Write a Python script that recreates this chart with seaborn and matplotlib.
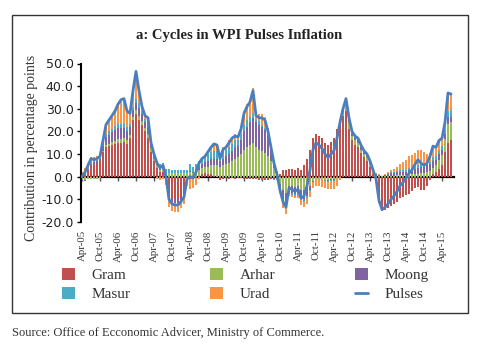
import numpy as np
import pandas as pd
import matplotlib
matplotlib.use("Agg")
import matplotlib.pyplot as plt
import seaborn as sns
from matplotlib.patches import Patch, Rectangle
from matplotlib.lines import Line2D
from matplotlib.ticker import FormatStrFormatter

# ---------------- data (percentage-point contributions, Apr-05 .. Jul-15) ----------------
months = [d.strftime("%b-%y") for d in pd.date_range("2005-04-01", periods=124, freq="MS")]

gram = [0.5, 1.5, 3, 5, 5.5, 6, 7, 11, 13, 13.5, 14, 14.5,
        15, 15, 15.5, 14.5, 17, 25, 27.5, 25, 23, 20, 17, 11,
        7, 4, 2, 2, -1, -8, -9.5, -10, -10, -9, -7, -1,
        -1, -1, -0.5, 0.5, 1, 1.5, 1, 1, 0.5, 0, -1.5, -1,
        -0.5, -1, -0.5, -1, -0.5, -0.5, -1, -1, -1, -1, -1, -1.5,
        -1.5, -1.5, -1.5, -1, -1, -0.5, 1, 3, 3, 3.5, 3.5, 3,
        4, 3, 5, 8, 12, 17, 19, 18, 17, 15, 14, 15.5,
        17, 21, 25, 27, 29, 21, 16, 14, 13, 10.5, 8.5, 7,
        4.5, 1, -2.5, -11.5, -15, -14.5, -14, -13, -12, -11, -9.5, -9,
        -8, -7.5, -6.5, -5, -4.5, -6, -6, -4, -1.5, 1, 2, 3.5,
        5, 11, 15, 16]
arhar = [-1.5, -1.5, -1, -0.8, -1, -1.2, -0.5, 0.5, 1, 1, 1.2, 1.2,
         1.5, 1.5, 1.5, 1.5, 1.5, 1.5, 2, 2, 1.5, 1.5, 2, 1.5,
         1, 1, 1, 1.5, 1.5, 1.5, 1.5, 1.5, 1.5, 1.5, 1.5, 1.5,
         2, 1.5, 2, 2.5, 3, 3, 3.5, 4, 4.5, 5, 4.5, 5,
         5.5, 6, 7, 8, 8.5, 10, 12, 13, 14, 15, 13, 12,
         11.5, 10.5, 9, 7, 4, 1, -3, -6, -7, -4, -4, -4.5,
         -4, -6, -6, -5, -4, -2, -1.5, -1.5, -1.5, -1.5, -1.5, -1,
         -1, -0.5, 0.5, 1.5, 3, 3, 2, 2, 2, 1.5, 1.5, 1.5,
         1.2, 1, 0.5, 0.3, 0.2, 0.3, 0.5, 0.5, 0.5, 0.8, 0.8, 0.8,
         0.8, 1, 1, 1, 1, 1.5, 1.5, 2, 2.5, 3, 3, 4,
         4.5, 5.5, 8.5, 8]
moong = [-0.5, -0.3, 0.2, 0.8, 0.8, 0.8, 1, 2, 3.5, 4, 4.5, 5,
         5, 5, 4.5, 4, 3.5, 3, 3, 3.5, 3, 2.5, 3, 1.5,
         1, 0.5, 0.5, 0.5, 0, -1, -1.5, -1.5, -1.5, -1.5, -1, -0.5,
         0.5, 0.5, 1, 1.5, 1.5, 2, 2.5, 3, 3, 3, 2.5, 3,
         3.5, 4, 4.5, 5, 5, 6, 8, 9, 10, 11, 11, 11,
         10.5, 10, 9, 6, 3.5, 1, -2, -4, -4.5, -2.5, -3, -3,
         -3, -3.5, -4, -3.5, -2, -0.5, 0, 0, 0, 0, -0.5, -0.5,
         -0.5, 0, 0, 0.5, 1, 1, 1, 1, 1, 1, 0.8, 0.8,
         0.8, 0.5, 0.5, 0.3, 0.1, 0.3, 0.6, 1, 1, 1.2, 1.5, 1.5,
         1.5, 2, 2, 2.5, 3, 3, 3, 3, 3, 3, 2.5, 2.5,
         2.5, 2.5, 3, 2.5]
masur = [0.3, 0.5, 0.5, 0.8, 0.8, 0.8, 0.8, 1, 1.5, 1.5, 1.5, 1.8,
         2, 2, 2, 1.8, 1.5, 1.5, 2, 2, 1.5, 1.5, 1.5, 1,
         1, 1.5, 2, 2, 2, 2, 1.5, 1.5, 1.5, 1.5, 1.5, 1.5,
         3, 2.5, 2.5, 2.5, 2.5, 2.5, 3, 3, 3.5, 3.5, 2.5, 3,
         3, 3, 3, 3, 2.5, 3, 3, 3, 2.5, 2, 1.5, 1.5,
         1, 1, 0.5, 0.5, -0.5, -1, -1.5, -2, -2, -1, -1, -1,
         -1, -1, -1, -1, -0.5, 0, 0, 0, 0, -0.5, -0.5, -0.5,
         -0.5, 0, 0, 0.5, 0.5, 0.5, 0.5, 0.5, 0.5, 0.5, 0.5, 0.5,
         0.3, 0.3, 0.3, 0.2, 0.1, 0.2, 0.4, 0.5, 0.5, 0.5, 0.7, 0.7,
         0.7, 1, 1, 1, 1, 1, 1, 1, 1, 1.5, 1.5, 1.5,
         1.5, 1.5, 2.5, 3]
urad = [1.2, 1.8, 2.3, 2.2, 1.4, 1.6, 0.7, 1.5, 4, 5, 5.8, 6.5,
        8.5, 10.5, 11, 7.2, 4.5, 7, 12, 5.5, 2, 1.5, 2.5, 0,
        0, -1, -1.5, -1, -2.5, -4.5, -4, -4, -4, -3.5, -4, -2.5,
        -4.5, -4, -3, -1, 0, 0, 1, 2, 3, 2.5, 0, 2,
        1.5, 3, 3, 3, 2, 2.5, 6, 7, 7.5, 11, 2.5, 3,
        4.5, 5, 3, 0.5, 0, 0.5, -0.5, -2, -3, -1, -1, -1,
        -1.5, -2, -2.5, -2.5, -2.5, -2.5, -2.5, -2.5, -3, -3, -3, -3.5,
        -3.5, -3.5, -1.5, 0.5, 1, 0.5, 0.5, 0.5, 0.5, 0.5, 0.2, 0.2,
        0.2, 0.2, 0.2, 0.2, 0.1, 0.2, 0.5, 1, 1.5, 2, 2.5, 3.5,
        4.5, 5, 5.5, 6, 7, 6.5, 5.5, 4, 4, 5, 4, 4.5,
        3.5, 3.5, 8, 7]
pulses = [0, 2, 5, 8, 7.5, 8, 9, 16, 23, 25, 27, 29,
          32, 34, 34.5, 29, 28, 38, 46.5, 38, 31, 27, 26, 15,
          10, 6, 4, 5, 0, -10, -12, -12.5, -12.5, -11, -9, -1,
          0, -0.5, 2, 6, 8, 9, 11, 13, 14.5, 14, 8, 12,
          13, 15, 17, 18, 17.5, 21, 28, 31, 33, 38, 27, 26,
          26, 25, 20, 13, 6, 1, -6, -11, -13.5, -5, -5.5, -6.5,
          -5.5, -9.5, -8.5, -4, 3, 12, 15, 14, 12.5, 10, 8.5, 10,
          11.5, 17, 24, 30, 34.5, 26, 20, 18, 17, 14, 11.5, 10,
          7, 3, -1, -10.5, -14.5, -13.5, -12, -10, -8.5, -6.5, -4, -2.5,
          -0.5, 1.5, 3, 5.5, 7.5, 6, 5, 6, 9, 13.5, 13, 16,
          17, 24, 37, 36.5]

series_names = ["Gram", "Arhar", "Moong", "Masur", "Urad"]
series_colors = ["#C0504D", "#9BBB59", "#8064A2", "#4BACC6", "#F79646"]
line_color = "#4A7EBF"

# ---------------- figure ----------------
sns.set_theme(style="white")
plt.rcParams["font.family"] = ["DejaVu Sans"]
SERIF = ["Liberation Serif", "DejaVu Serif"]

fig = plt.figure(figsize=(4.8, 3.47), dpi=100)
ax = fig.add_axes([80.5 / 480, 1 - 222 / 347, (454 - 80.5) / 480, (222 - 63.5) / 347])

idx = np.arange(len(pulses))
comps = np.array([gram, arhar, moong, masur, urad], dtype=float)
cum_pos = np.cumsum(np.clip(comps, 0, None), axis=0)
cum_neg = np.cumsum(np.clip(comps, None, 0), axis=0)

# stacked bars drawn as overlapping cumulative bars (outermost first)
for k in reversed(range(len(series_names))):
    for cum in (cum_pos, cum_neg):
        sns.barplot(x=idx, y=cum[k], native_scale=True, color=series_colors[k],
                    saturation=1, width=0.62, linewidth=0, errorbar=None, ax=ax)

sns.lineplot(x=idx, y=pulses, color=line_color, linewidth=2.0, ax=ax, zorder=6)

ax.set_xlim(-0.5, 124)
ax.set_ylim(-20, 50)
ax.set_yticks(np.arange(-20, 51, 10))
ax.yaxis.set_major_formatter(FormatStrFormatter("%.1f"))
ax.tick_params(axis="y", length=3, width=1, color="black", labelsize=9, pad=2, left=True,
               labelcolor="#222222")

tick_pos = idx[::6]
ax.set_xticks(tick_pos)
ax.set_xticklabels([months[i] for i in tick_pos], rotation=90, fontsize=7.8,
                   family=SERIF, color="#333333")
ax.tick_params(axis="x", length=0, pad=6)
ax.set_xlabel("")
ax.set_ylabel("")
for s in ("top", "right", "bottom"):
    ax.spines[s].set_visible(False)
ax.spines["left"].set_color("black")
ax.spines["left"].set_linewidth(1.5)
ax.grid(False)

# zero axis line with small ticks
sec = ax.secondary_xaxis(20 / 70)
sec.set_xticks(tick_pos)
sec.set_xticklabels([""] * len(tick_pos))
sec.tick_params(length=3, width=1, color="#555555")
sec.spines["bottom"].set_color("black")
sec.spines["bottom"].set_linewidth(1.6)

# texts
fig.text(239 / 480, 1 - 36 / 347, "a: Cycles in WPI Pulses Inflation", ha="center", va="center",
         fontsize=10.5, fontweight="bold", family=SERIF, color="#222222")
fig.text(32 / 480, 1 - 148 / 347, "Contribution in percentage points", rotation=90,
         ha="center", va="center", fontsize=10, family=SERIF, color="#333333")
fig.text(12 / 480, 1 - 333 / 347, "Source: Office of Ecconomic Advicer, Ministry of Commerce.",
         ha="left", va="center", fontsize=9, family=SERIF, color="#333333")

# legend (row-wise order: Gram, Arhar, Moong / Masur, Urad, Pulses)
h = {n: Patch(facecolor=c, edgecolor="none") for n, c in zip(series_names, series_colors)}
h["Pulses"] = Line2D([0], [0], color=line_color, lw=2)
order = ["Gram", "Masur", "Arhar", "Urad", "Moong", "Pulses"]
fig.legend([h[n] for n in order], order, ncol=3, loc="upper left",
           bbox_to_anchor=(62 / 480, 1 - 268 / 347), frameon=False,
           prop={"family": SERIF, "size": 11}, handlelength=0.85, handleheight=0.85,
           handletextpad=1.1, columnspacing=5.2, labelspacing=0.3, borderpad=0,
           borderaxespad=0, labelcolor="#333333")

# outer frame
fig.patches.append(Rectangle((12 / 480, 1 - 313 / 347), (468 - 12) / 480, (313 - 15) / 347,
                             transform=fig.transFigure, fill=False, edgecolor="#333333",
                             linewidth=1.0, zorder=10))

fig.savefig("out.png", dpi=100)
